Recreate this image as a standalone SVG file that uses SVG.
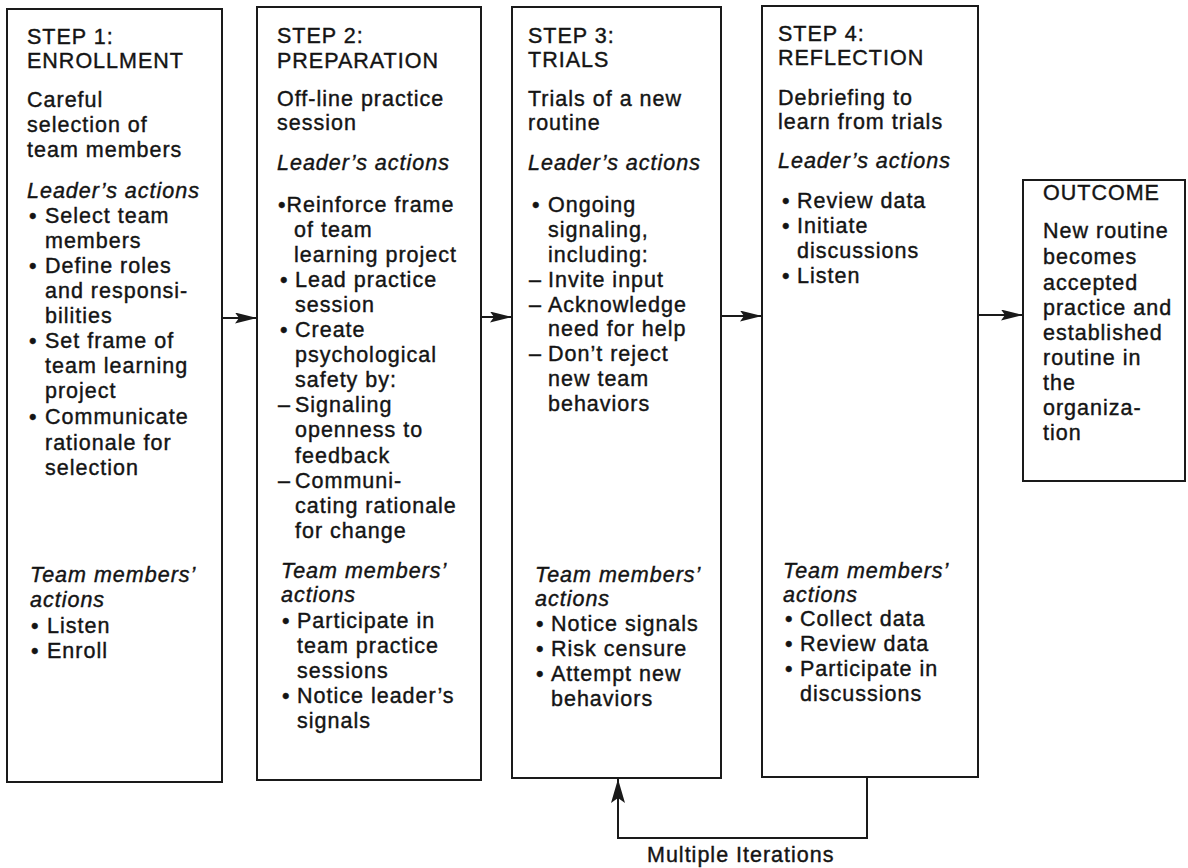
<svg xmlns="http://www.w3.org/2000/svg" width="1188" height="868" viewBox="0 0 1188 868">
<defs>
<style>
text{font-family:"Liberation Sans",Arial,Helvetica,sans-serif;font-size:21.5px;letter-spacing:1px;fill:#141414;stroke:#141414;stroke-width:0.4px}
.i{font-style:italic}
.box{fill:#fff;stroke:#1a1a1a;stroke-width:2}
.con{fill:none;stroke:#1a1a1a;stroke-width:2}
</style>
<marker id="ah" markerUnits="userSpaceOnUse" markerWidth="22" markerHeight="11" refX="22" refY="5.5" orient="auto">
<path d="M0,0 L22,5.5 L0,11 L4,5.5 z" fill="#1a1a1a"/>
</marker>
<marker id="ahL" markerUnits="userSpaceOnUse" markerWidth="24" markerHeight="14" refX="24" refY="7" orient="auto">
<path d="M0,0 L24,7 L0,14 L5,7 z" fill="#1a1a1a"/>
</marker>
</defs>
<rect width="1188" height="868" fill="#fff"/>

<g id="step1">
<rect class="box" x="7" y="9" width="215" height="773"/>
<text x="27" y="44">STEP 1:</text>
<text x="27" y="68">ENROLLMENT</text>
<text x="27" y="107">Careful</text>
<text x="27" y="132">selection of</text>
<text x="27" y="157">team members</text>
<text class="i" x="27" y="198">Leader’s actions</text>
<text x="29" y="223">•</text><text x="45" y="223">Select team</text>
<text x="45" y="248">members</text>
<text x="29" y="273">•</text><text x="45" y="273">Define roles</text>
<text x="45" y="298">and responsi-</text>
<text x="45" y="323">bilities</text>
<text x="29" y="348">•</text><text x="45" y="348">Set frame of</text>
<text x="45" y="373">team learning</text>
<text x="45" y="398">project</text>
<text x="29" y="424">•</text><text x="45" y="424">Communicate</text>
<text x="45" y="450">rationale for</text>
<text x="45" y="475">selection</text>
<text class="i" x="30" y="582">Team members’</text>
<text class="i" x="30" y="607">actions</text>
<text x="31" y="633">•</text><text x="47" y="633">Listen</text>
<text x="31" y="658">•</text><text x="47" y="658">Enroll</text>
</g>

<g id="step2">
<rect class="box" x="257" y="7" width="224" height="773"/>
<text x="277" y="43">STEP 2:</text>
<text x="277" y="68">PREPARATION</text>
<text x="277" y="106">Off-line practice</text>
<text x="277" y="130">session</text>
<text class="i" x="277" y="170">Leader’s actions</text>
<text x="278" y="212">•Reinforce frame</text>
<text x="294" y="237">of team</text>
<text x="294" y="262">learning project</text>
<text x="280" y="287">•</text><text x="295" y="287">Lead practice</text>
<text x="295" y="312">session</text>
<text x="280" y="337">•</text><text x="295" y="337">Create</text>
<text x="295" y="362">psychological</text>
<text x="295" y="387">safety by:</text>
<text x="278" y="412">–</text><text x="295" y="412">Signaling</text>
<text x="295" y="437">openness to</text>
<text x="295" y="463">feedback</text>
<text x="278" y="488">–</text><text x="295" y="488">Communi-</text>
<text x="295" y="513">cating rationale</text>
<text x="295" y="538">for change</text>
<text class="i" x="281" y="578">Team members’</text>
<text class="i" x="281" y="602">actions</text>
<text x="282" y="628">•</text><text x="297" y="628">Participate in</text>
<text x="297" y="653">team practice</text>
<text x="297" y="678">sessions</text>
<text x="282" y="703">•</text><text x="297" y="703">Notice leader’s</text>
<text x="297" y="728">signals</text>
</g>

<g id="step3">
<rect class="box" x="512" y="7" width="209" height="771"/>
<text x="528" y="43">STEP 3:</text>
<text x="528" y="67">TRIALS</text>
<text x="528" y="106">Trials of a new</text>
<text x="528" y="130">routine</text>
<text class="i" x="528" y="170">Leader’s actions</text>
<text x="532" y="212">•</text><text x="548" y="212">Ongoing</text>
<text x="548" y="237">signaling,</text>
<text x="548" y="262">including:</text>
<text x="529" y="287">–</text><text x="548" y="287">Invite input</text>
<text x="529" y="312">–</text><text x="548" y="312">Acknowledge</text>
<text x="548" y="336">need for help</text>
<text x="529" y="361">–</text><text x="548" y="361">Don’t reject</text>
<text x="548" y="386">new team</text>
<text x="548" y="411">behaviors</text>
<text class="i" x="535" y="582">Team members’</text>
<text class="i" x="535" y="606">actions</text>
<text x="536" y="631">•</text><text x="551" y="631">Notice signals</text>
<text x="536" y="656">•</text><text x="551" y="656">Risk censure</text>
<text x="536" y="681">•</text><text x="551" y="681">Attempt new</text>
<text x="551" y="706">behaviors</text>
</g>

<g id="step4">
<rect class="box" x="762" y="6" width="216" height="771"/>
<text x="778" y="41">STEP 4:</text>
<text x="778" y="65">REFLECTION</text>
<text x="778" y="105">Debriefing to</text>
<text x="778" y="129">learn from trials</text>
<text class="i" x="778" y="168">Leader’s actions</text>
<text x="782" y="208">•</text><text x="797" y="208">Review data</text>
<text x="782" y="233">•</text><text x="797" y="233">Initiate</text>
<text x="797" y="258">discussions</text>
<text x="782" y="283">•</text><text x="797" y="283">Listen</text>
<text class="i" x="783" y="578">Team members’</text>
<text class="i" x="783" y="602">actions</text>
<text x="785" y="626">•</text><text x="800" y="626">Collect data</text>
<text x="785" y="651">•</text><text x="800" y="651">Review data</text>
<text x="785" y="676">•</text><text x="800" y="676">Participate in</text>
<text x="800" y="701">discussions</text>
</g>

<g id="outcome">
<rect class="box" x="1023" y="180" width="162" height="301"/>
<text x="1043" y="200">OUTCOME</text>
<text x="1043" y="238">New routine</text>
<text x="1043" y="264">becomes</text>
<text x="1043" y="290">accepted</text>
<text x="1043" y="315">practice and</text>
<text x="1043" y="340">established</text>
<text x="1043" y="365">routine in</text>
<text x="1043" y="390">the</text>
<text x="1043" y="415">organiza-</text>
<text x="1043" y="440">tion</text>
</g>

<g id="connectors">
<line class="con" x1="222" y1="318" x2="257" y2="318" marker-end="url(#ah)"/>
<line class="con" x1="481" y1="317" x2="512" y2="317" marker-end="url(#ah)"/>
<line class="con" x1="721" y1="316" x2="762" y2="316" marker-end="url(#ah)"/>
<line class="con" x1="978" y1="315" x2="1023" y2="315" marker-end="url(#ah)"/>
<polyline class="con" points="867,777 867,838 618,838 618,779" marker-end="url(#ahL)"/>
<text x="647" y="862">Multiple Iterations</text>
</g>
</svg>
